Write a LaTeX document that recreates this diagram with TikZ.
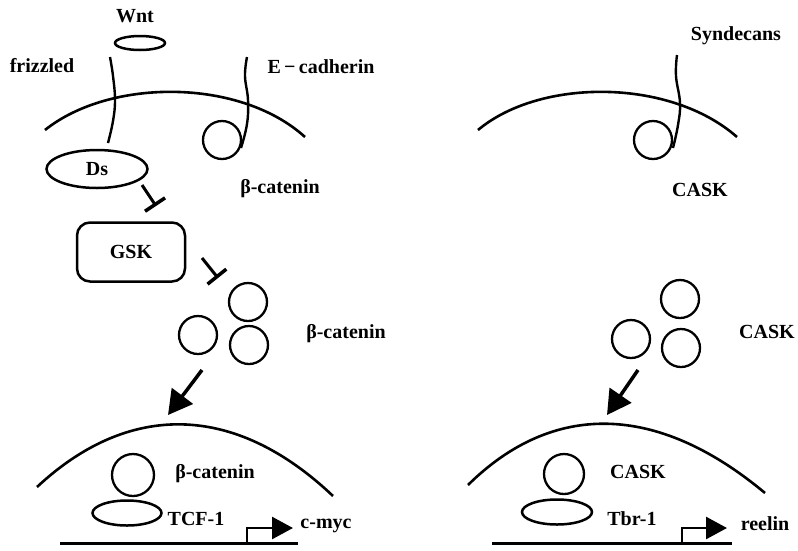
\documentclass[tikz,border=0pt]{standalone}
\usepackage{fontspec}
\setmainfont{Liberation Serif}
\usetikzlibrary{arrows.meta,shapes.geometric}
\begin{document}
\begin{tikzpicture}[x=1pt,y=-1pt,
  lbl/.style={font=\fontsize{20}{22}\selectfont\bfseries, anchor=base, inner sep=0pt},
  mem/.style={line width=2.6pt},
  prot/.style={draw, circle, minimum size=38pt, inner sep=0pt, line width=2.3pt},
  oval/.style={draw, ellipse, inner sep=0pt, line width=2.5pt, font=\fontsize{20}{22}\selectfont\bfseries},
  wavy/.style={line width=2.4pt},
  inhib/.style={line width=3pt, -{Bar[width=24pt,line width=3.5pt]}},
  push/.style={line width=3.5pt, -{Triangle[length=24pt,width=26pt]}},
  prom/.style={line width=2.6pt, -{Triangle[length=21pt,width=22pt]}},
  dna/.style={line width=3pt}]
\useasboundingbox (0,0) rectangle (798,550);
\fill[white] (0,0) rectangle (798,550);

% ---------------- left panel ----------------
\node[lbl] (twnt) at (135,22) {Wnt};
\node[oval, minimum width=50pt, minimum height=14pt] (wnt) at (140,43) {};
\node[lbl] (tfriz) at (42,72) {frizzled};
\node[lbl] (tecad) at (321,73) {E\,−\,cadherin};

% membrane
\coordinate (mL1) at (45,130);
\coordinate (mL2) at (305,137);
\draw[mem] (mL1) .. controls (110,78) and (240,78) .. (mL2);

% frizzled and E-cadherin
\draw[wavy] plot[smooth, tension=0.7] coordinates {(110,57) (113,76) (115,100) (113,121) (108,143)};
\node[prot] (ecirc) at (222,140) {};
\draw[wavy] plot[smooth, tension=0.7] coordinates {(247,57) (245,76) (248,100) (247,124) (241,148)};

\node[oval, minimum width=101pt, minimum height=38pt] (ds) at (97,169) {Ds};
\node[lbl] (tbc1) at (280,193) {β-catenin};

\coordinate (i1s) at (142,185);
\coordinate (i1e) at (156,206);
\draw[inhib] (i1s) -- (i1e);

\node[draw, rounded corners=13pt, line width=2.5pt, minimum width=108pt, minimum height=59pt,
      font=\fontsize{20}{22}\selectfont\bfseries] (gsk) at (131,252) {GSK};

\coordinate (i2s) at (202,258);
\coordinate (i2e) at (218,278);
\draw[inhib] (i2s) -- (i2e);

\node[prot] (b1) at (248,302) {};
\node[prot] (b2) at (198,335) {};
\node[prot] (b3) at (249,345) {};
\node[lbl] (tbc2) at (346,338) {β-catenin};

\coordinate (aLs) at (202,370);
\coordinate (aLe) at (168,415);
\draw[push] (aLs) -- (aLe);

% nucleus
\coordinate (nL1) at (37,487);
\coordinate (nL2) at (333,496);
\draw[mem] (nL1) .. controls (128,402) and (234,402) .. (nL2);

\node[prot, minimum size=42pt] (bn) at (133,475) {};
\node[lbl] (tbc3) at (215,478) {β-catenin};
\node[oval, minimum width=69pt, minimum height=25pt] (tcf) at (127,513) {};
\node[lbl] (ttcf) at (196,525) {TCF-1};

\coordinate (dL1) at (60,543);
\coordinate (dL2) at (298,543);
\draw[dna] (dL1) -- (dL2);
\coordinate (pL) at (247,543);
\coordinate (pLe) at (293,528);
\draw[prom] (pL) |- (pLe);
\node[lbl] (tmyc) at (326,528) {c-myc};

% ---------------- right panel ----------------
\node[lbl] (tsyn) at (736,40) {Syndecans};
\coordinate (mR1) at (478,130);
\coordinate (mR2) at (737,137);
\draw[mem] (mR1) .. controls (540,78) and (670,78) .. (mR2);
\node[prot] (scirc) at (653,140) {};
\draw[wavy] plot[smooth, tension=0.7] coordinates {(677,55) (676,76) (680,103) (678,125) (673,148)};
\node[lbl] (tcask1) at (700,196) {CASK};

\node[prot] (c1) at (680,299) {};
\node[prot] (c2) at (631,339) {};
\node[prot] (c3) at (681,348) {};
\node[lbl] (tcask2) at (767,338) {CASK};

\coordinate (aRs) at (638,370);
\coordinate (aRe) at (607,415);
\draw[push] (aRs) -- (aRe);

\coordinate (nR1) at (468,485);
\coordinate (nR2) at (765,493);
\draw[mem] (nR1) .. controls (552,402) and (656,402) .. (nR2);

\node[prot, minimum size=40pt] (cn) at (564,474) {};
\node[lbl] (tcask3) at (638,478) {CASK};
\node[oval, minimum width=70pt, minimum height=25pt] (tbr) at (557,512) {};
\node[lbl] (ttbr) at (632,525) {Tbr-1};

\coordinate (dR1) at (492,543);
\coordinate (dR2) at (732,543);
\draw[dna] (dR1) -- (dR2);
\coordinate (pR) at (682,543);
\coordinate (pRe) at (727,528);
\draw[prom] (pR) |- (pRe);
\node[lbl] (treel) at (765,530) {reelin};
\end{tikzpicture}
\end{document}
